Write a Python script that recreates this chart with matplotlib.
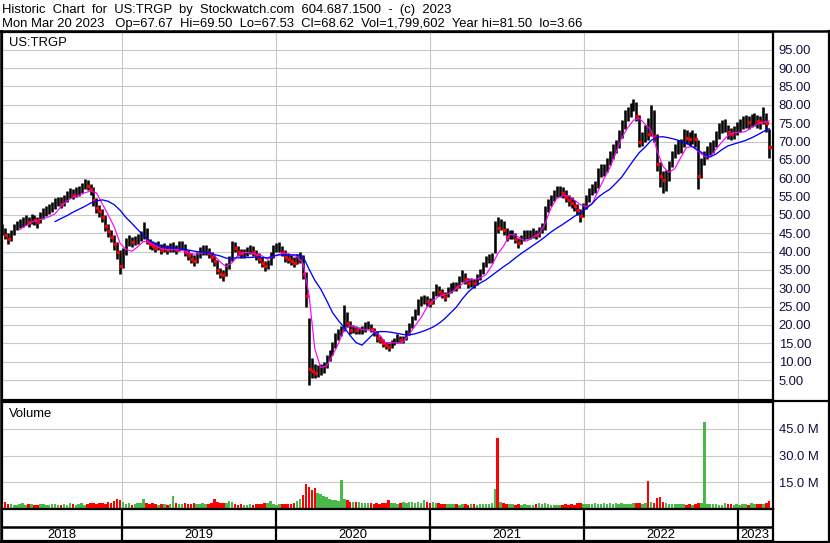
import matplotlib
matplotlib.use("Agg")
import matplotlib.pyplot as plt
import matplotlib.lines as mlines
import pandas as pd
import numpy as np

plt.rcParams['font.family'] = ['Liberation Sans', 'DejaVu Sans']

# ---------------- data (weekly) ----------------
week_start = "2018-03-23"
n_weeks = 261

close = [46.0, 44.5, 43.5, 45.0, 46.5, 47.0, 47.5, 48.0, 48.5, 48.0,
         49.0, 48.5, 48.0, 49.5, 50.5, 51.0, 51.5, 52.0, 53.0, 53.5,
         53.0, 54.0, 55.0, 56.0, 55.5, 56.0, 56.5, 57.5, 58.5, 58.0,
         57.0, 54.0, 52.0, 51.0, 49.5, 47.0, 45.5, 44.0, 42.0, 40.0,
         36.0, 39.5, 42.5, 43.0, 42.5, 43.0, 43.5, 44.0, 46.0, 43.0,
         42.0, 41.5, 41.0, 41.5, 40.5, 41.0, 40.5, 41.0, 41.0, 40.5,
         41.5, 41.5, 40.0, 39.0, 38.0, 37.5, 38.5, 40.0, 40.5, 40.5,
         39.5, 38.5, 37.5, 35.0, 34.0, 33.5, 35.5, 37.5, 41.5, 41.0,
         40.0, 39.5, 39.5, 40.0, 40.5, 40.0, 39.0, 38.0, 37.0, 36.0,
         36.5, 38.5, 40.5, 41.0, 41.0, 40.0, 38.5, 38.0, 37.5, 37.0,
         38.0, 38.5, 34.0, 28.0, 8.0, 7.5, 7.0, 7.0, 8.0, 8.5,
         10.5, 12.0, 14.0, 16.5, 17.5, 18.5, 23.5, 20.5, 18.5, 19.0,
         18.5, 18.5, 18.5, 19.5, 20.0, 19.0, 18.0, 16.5, 16.0, 15.0,
         14.5, 14.0, 15.0, 15.5, 16.5, 16.0, 16.0, 17.5, 19.5, 21.5,
         23.0, 26.0, 26.5, 27.0, 26.5, 26.0, 28.0, 30.0, 29.0, 28.5,
         27.7, 29.0, 30.4, 30.5, 30.4, 32.0, 34.0, 32.5, 31.4, 31.5,
         31.4, 32.5, 34.0, 36.0, 37.7, 38.0, 38.2, 47.5, 46.5, 47.8,
         46.0, 44.0, 44.5, 44.7, 43.5, 42.3, 43.5, 44.5, 44.5, 44.6,
         45.0, 44.6, 45.5, 46.4, 51.4, 53.0, 54.2, 55.5, 56.5, 56.5,
         56.0, 55.0, 54.0, 53.3, 52.5, 51.4, 49.6, 52.0, 54.0, 56.0,
         57.0, 57.8, 61.5, 62.0, 62.4, 64.0, 66.0, 67.5, 68.8, 71.5,
         74.0, 77.0, 77.5, 79.0, 80.5, 77.0, 70.0, 70.5, 73.0, 72.0,
         78.0, 71.5, 64.0, 60.6, 59.5, 59.7, 63.3, 66.0, 67.8, 68.5,
         68.8, 71.5, 71.0, 70.6, 71.0, 70.6, 60.6, 64.0, 66.0, 67.0,
         68.0, 68.8, 71.0, 73.4, 74.0, 74.3, 72.5, 72.0, 72.5, 73.5,
         74.3, 75.2, 75.5, 75.2, 75.8, 76.0, 75.5, 75.2, 77.5, 75.0,
         68.6]

low = [44.5, 43.5, 42.0, 43.0, 44.5, 45.8, 46.3, 46.8, 47.2, 46.8,
       47.5, 47.3, 46.5, 47.8, 49.0, 49.8, 50.3, 50.8, 51.5, 52.3,
       51.8, 52.5, 53.5, 54.5, 54.3, 54.8, 55.2, 56.0, 57.0, 56.8,
       55.5, 52.5, 50.5, 49.5, 48.0, 45.5, 44.0, 42.5, 40.5, 38.0,
       34.0, 35.5, 39.0, 41.5, 41.3, 41.8, 42.2, 42.8, 43.5, 42.0,
       40.8, 40.3, 39.8, 40.3, 39.3, 39.8, 39.3, 39.8, 39.8, 39.3,
       40.2, 40.3, 38.8, 37.8, 36.8, 36.2, 37.0, 38.3, 39.2, 39.2,
       38.3, 37.3, 36.0, 33.8, 32.8, 32.0, 33.3, 35.3, 37.5, 39.8,
       38.8, 38.3, 38.3, 38.8, 39.3, 38.8, 37.8, 36.8, 35.8, 34.8,
       35.3, 36.3, 38.3, 39.8, 39.8, 38.8, 37.3, 36.8, 36.3, 35.8,
       36.5, 37.0, 32.5, 25.0, 3.66, 5.5, 5.5, 5.8, 6.5, 7.0,
       8.3, 10.3, 11.8, 13.8, 16.0, 17.0, 18.3, 19.5, 17.5, 17.8,
       17.5, 17.5, 17.5, 18.2, 18.8, 18.0, 17.0, 15.5, 15.0, 14.0,
       13.5, 13.0, 13.8, 14.5, 15.2, 15.0, 15.0, 15.8, 17.3, 19.3,
       21.3, 22.8, 25.3, 25.8, 25.3, 24.8, 25.8, 27.8, 27.8, 27.3,
       26.5, 27.5, 28.8, 29.3, 29.2, 30.2, 31.8, 31.3, 30.2, 30.3,
       30.2, 31.0, 32.3, 33.8, 35.8, 36.8, 37.0, 39.5, 45.0, 45.8,
       44.5, 42.8, 43.3, 43.5, 42.3, 41.0, 42.0, 43.0, 43.3, 43.3,
       43.8, 43.3, 44.0, 45.0, 46.0, 50.8, 52.5, 53.8, 54.8, 55.0,
       54.5, 53.5, 52.5, 51.8, 51.0, 50.0, 48.0, 49.3, 51.5, 53.5,
       55.3, 56.0, 57.3, 60.3, 60.5, 61.8, 63.5, 65.3, 66.8, 68.3,
       71.0, 73.5, 75.5, 76.8, 78.3, 75.5, 68.5, 68.8, 70.0, 70.5,
       71.5, 70.0, 62.0, 57.5, 56.0, 56.5, 59.3, 63.0, 65.5, 66.5,
       66.8, 68.5, 69.3, 68.8, 69.3, 68.5, 57.0, 60.0, 63.5, 65.3,
       66.3, 67.0, 68.5, 70.8, 72.3, 72.5, 70.8, 70.3, 70.8, 71.8,
       72.5, 73.5, 73.8, 73.5, 74.0, 74.3, 73.8, 73.5, 74.8, 72.5,
       65.5]

high = [47.5, 46.5, 45.0, 46.0, 47.5, 48.3, 48.8, 49.3, 50.0, 49.5,
        50.3, 50.0, 49.3, 50.8, 51.8, 52.5, 53.0, 53.5, 54.5, 55.0,
        54.8, 55.5, 56.5, 57.3, 57.0, 57.5, 58.0, 58.8, 59.8, 59.5,
        58.5, 57.5, 54.5, 52.8, 51.5, 50.0, 47.5, 46.0, 44.5, 42.5,
        40.5, 41.0, 43.8, 44.5, 44.0, 44.3, 44.8, 45.5, 48.0, 46.5,
        43.5, 43.0, 42.5, 42.8, 42.0, 42.3, 41.8, 42.3, 42.5, 41.8,
        42.8, 42.8, 42.0, 40.5, 39.5, 39.0, 39.8, 41.3, 41.8, 41.8,
        41.0, 40.0, 39.0, 37.8, 35.5, 35.0, 36.8, 38.8, 43.0, 42.5,
        41.5, 40.8, 40.8, 41.3, 41.8, 41.5, 40.5, 39.5, 38.5, 37.5,
        37.8, 39.8, 41.8, 42.3, 42.5, 41.5, 40.3, 39.5, 39.0, 38.5,
        39.3, 39.8, 39.0, 34.5, 22.0, 11.0, 9.5, 9.0, 9.5, 10.0,
        11.8, 13.3, 15.3, 17.8, 18.8, 19.8, 25.5, 23.5, 21.0, 20.0,
        19.8, 19.5, 19.8, 20.8, 21.0, 20.3, 19.3, 18.3, 17.0, 16.3,
        15.5, 15.0, 15.8, 16.5, 17.5, 17.0, 17.0, 18.5, 20.5, 22.5,
        24.3, 27.0, 27.8, 28.3, 27.8, 27.3, 29.3, 31.3, 30.5, 29.8,
        29.0, 30.3, 31.5, 31.8, 31.6, 33.3, 35.0, 34.3, 32.8, 32.8,
        32.6, 33.8, 35.3, 37.3, 38.8, 39.3, 39.5, 48.3, 49.5, 48.8,
        48.3, 46.3, 45.8, 46.0, 45.0, 43.8, 44.5, 45.8, 45.8, 45.8,
        46.3, 46.0, 46.8, 47.8, 52.5, 54.3, 55.5, 56.8, 57.8, 58.0,
        57.5, 56.8, 55.5, 54.8, 54.0, 53.0, 51.5, 53.3, 55.3, 57.3,
        58.5, 59.3, 62.8, 63.8, 64.0, 65.5, 67.5, 69.3, 70.5, 73.0,
        75.8, 78.5, 79.3, 80.5, 81.5, 80.8, 77.3, 72.5, 74.5, 76.5,
        80.0, 78.5, 72.0, 64.5, 62.0, 62.3, 64.8, 67.5, 69.3, 70.3,
        70.8, 73.3, 73.0, 72.5, 73.0, 72.3, 70.5, 65.5, 67.5, 68.8,
        69.8, 70.5, 72.8, 75.0, 75.8, 76.0, 74.5, 73.8, 74.3, 75.3,
        76.0, 77.0, 77.3, 77.0, 77.5, 77.8, 77.3, 77.0, 79.5, 77.8,
        73.5]

# volume in millions of shares (weekly)
volume = [2.8, 4.0, 2.6, 2.9, 2.5, 2.3, 2.7, 3.1, 2.4, 2.6,
          2.9, 2.3, 2.5, 3.0, 2.7, 2.4, 2.3, 2.8, 2.6, 2.3,
          2.5, 2.9, 2.4, 3.5, 2.7, 2.3, 2.6, 3.1, 2.5, 2.8,
          3.2, 3.5, 2.9, 3.1, 3.3, 2.8, 3.8, 3.3, 4.5, 5.8,
          4.8, 3.8, 2.9, 3.1, 2.5, 2.8, 3.3, 3.6, 5.8, 3.5,
          2.8, 3.1, 2.6, 2.4, 2.9, 2.7, 2.5, 3.0, 7.5, 3.3,
          2.9, 2.7, 3.2, 2.6, 2.8, 3.1, 2.9, 2.7, 3.3, 3.0,
          2.8, 3.6, 5.5, 3.8, 3.3, 3.5, 3.1, 4.3, 3.9, 2.8,
          2.5, 2.7, 2.3, 2.4, 2.6, 2.5, 2.8, 2.9, 2.7, 3.2,
          3.5, 4.5, 2.9, 2.5, 2.7, 2.6, 2.8, 2.9, 2.7, 3.1,
          4.5, 5.5, 8.0, 14.0, 12.5, 10.5, 12.0, 9.0, 8.5, 7.5,
          7.0, 5.5, 5.0, 4.8, 4.5, 16.5, 5.5, 5.0, 4.2, 4.0,
          3.8, 4.0, 3.5, 3.4, 3.2, 3.5, 3.0, 3.2, 2.9, 3.1,
          3.4, 5.0, 3.5, 3.2, 3.0, 3.3, 4.2, 3.2, 3.7, 3.7,
          3.6, 3.8, 3.4, 5.0, 3.7, 3.2, 4.0, 3.5, 3.2, 3.0,
          2.8, 3.0, 2.7, 2.9, 2.6, 2.5, 2.8, 2.7, 2.4, 2.6,
          2.7, 2.5, 2.8, 2.6, 2.9, 2.7, 3.2, 11.0, 40.0, 3.8,
          3.2, 2.8, 2.7, 2.6, 2.5, 2.7, 2.4, 2.6, 2.3, 2.5,
          2.4, 2.7, 3.4, 2.8, 3.2, 2.6, 2.4, 2.5, 2.3, 2.2,
          2.4, 2.6, 2.5, 2.7, 2.3, 3.6, 3.2, 2.7, 2.8, 2.6,
          3.0, 3.2, 2.9, 2.7, 3.4, 2.8, 3.2, 3.0, 3.6, 2.9,
          3.2, 2.7, 2.8, 3.0, 3.5, 3.2, 3.4, 3.0, 3.2, 15.7,
          3.7, 3.2, 6.0, 7.0, 4.0, 3.4, 2.8, 2.7, 3.0, 2.6,
          2.8, 2.7, 2.5, 2.6, 2.4, 2.8, 3.2, 3.4, 49.0, 3.0,
          2.8, 2.6, 2.7, 2.4, 2.5, 3.5, 2.6, 2.8, 2.5, 2.7,
          2.4, 2.6, 2.7, 2.5, 3.2, 2.8, 2.6, 2.7, 3.0, 3.2,
          4.5]

# moving averages, sampled every second week
ma_short = [np.nan, np.nan, np.nan, 46.0, 47.0, 48.0, 48.5, 49.0, 49.5, 50.3,
            52.3, 53.8, 54.8, 55.3, 56.0, 56.5, 56.0, 53.0, 50.0, 46.8,
            42.3, 40.6, 40.1, 41.3, 42.8, 42.5, 41.6, 40.8, 40.5, 40.5,
            40.5, 40.1, 39.4, 39.3, 39.7, 39.8, 38.9, 37.1, 35.9, 37.0,
            39.0, 39.8, 39.7, 39.2, 38.9, 37.9, 38.7, 39.3, 39.5, 39.0,
            38.7, 36.8, 28.5, 13.5, 8.4, 8.8, 11.7, 14.9, 18.8, 19.8,
            19.3, 18.8, 18.6, 18.5, 17.2, 15.2, 15.2, 15.1, 15.4, 17.5,
            19.8, 22.0, 24.8, 26.6, 27.8, 28.2, 28.8, 30.0, 31.2, 32.2,
            32.4, 32.8, 33.7, 36.2, 39.4, 41.5, 44.6, 44.5, 43.4, 42.9,
            44.0, 44.8, 47.5, 51.8, 54.5, 55.2, 55.2, 54.0, 52.8, 52.3,
            53.0, 56.5, 59.8, 62.8, 66.8, 71.0, 73.7, 75.8, 76.3, 74.7,
            73.0, 67.5, 63.2, 61.6, 62.6, 65.6, 68.4, 68.6, 67.3, 66.0,
            65.8, 67.9, 69.9, 71.6, 72.4, 72.5, 72.7, 73.9, 74.8, 75.2,
            75.6]

ma_long = [np.nan, np.nan, np.nan, np.nan, np.nan, np.nan, np.nan, np.nan, np.nan, 48.2,
           49.0, 49.8, 50.7, 51.5, 52.3, 53.2, 53.8, 54.1, 53.7, 52.8,
           51.3, 49.3, 47.7, 46.0, 44.3, 43.0, 42.1, 41.5, 41.2, 41.0,
           40.8, 40.6, 40.3, 40.0, 39.9, 39.7, 39.2, 38.8, 38.2, 38.2,
           38.3, 38.4, 38.4, 38.5, 38.4, 38.3, 38.8, 39.1, 39.1, 39.1,
           39.1, 38.7, 35.3, 32.2, 29.8, 26.7, 23.4, 21.2, 19.3, 17.1,
           15.2, 14.5, 16.1, 17.7, 18.2, 18.2, 18.0, 17.7, 17.4, 17.3,
           17.6, 18.1, 18.7, 19.4, 20.4, 21.7, 23.3, 24.9, 27.1, 29.0,
           30.4, 31.4, 32.3, 33.5, 34.7, 35.9, 37.0, 38.3, 39.5, 40.6,
           41.7, 42.8, 44.0, 45.3, 46.4, 47.4, 48.5, 49.6, 50.6, 51.7,
           53.1, 54.8, 56.0, 57.0, 58.6, 60.3, 62.6, 64.9, 67.0, 68.5,
           70.3, 71.2, 71.3, 71.0, 70.6, 70.1, 69.5, 68.6, 67.6, 66.5,
           65.8, 66.6, 67.8, 68.8, 69.3, 69.8, 70.3, 71.0, 71.8, 72.7,
           73.5]

price_ticks = list(range(5, 100, 5))
vol_ticks = [15, 30, 45]
years = [2018, 2019, 2020, 2021, 2022, 2023]
x_start, x_end = "2018-03-23", "2023-03-26"

header1 = "Historic  Chart  for  US:TRGP  by  Stockwatch.com  604.687.1500  -  (c)  2023"
header2 = ("Mon Mar 20 2023   Op=67.67  Hi=69.50  Lo=67.53  Cl=68.62  "
           "Vol=1,799,602  Year hi=81.50  lo=3.66")

# ---------------- figure ----------------
W, H = 830, 543
fig = plt.figure(figsize=(W / 100, H / 100), dpi=100)
fig.patch.set_facecolor("white")


def rect(x0, y0, x1, y1):
    return [x0 / W, 1 - y1 / H, (x1 - x0) / W, (y1 - y0) / H]


dates = pd.date_range(week_start, periods=n_weeks, freq="7D")
ma_dates = dates[::2]
xlo, xhi = pd.Timestamp(x_start), pd.Timestamp(x_end)
year_bounds = [pd.Timestamp(f"{y}-01-01") for y in years[1:]]

close_a = np.array(close)
down = np.r_[False, close_a[1:] < close_a[:-1]]

GRID = "#c8c8c8"
LBL = "#101040"
FS = 9.4

# price panel
axp = fig.add_axes(rect(2, 32, 773, 400))
axp.set_xlim(xlo, xhi)
axp.set_ylim(-0.44, 99.84)
axp.vlines(dates, low, high, color="black", lw=1.85, zorder=3)
axp.plot(dates[down] + pd.Timedelta(days=2), close_a[down], ls="none",
         marker="s", ms=1.6, mfc="red", mec="red", zorder=4)
axp.plot(ma_dates, ma_short, color="#ff00ff", lw=0.85, zorder=5)
axp.plot(ma_dates, ma_long, color="#0000ff", lw=0.95, zorder=5)
axp.set_yticks(price_ticks)
axp.set_yticklabels([f"{v:.2f}" for v in price_ticks])
axp.set_xticks(year_bounds)
axp.set_xticklabels([])
axp.yaxis.tick_right()
axp.tick_params(axis="y", length=0, pad=4, labelsize=FS, labelcolor=LBL)
axp.tick_params(axis="x", length=0)
axp.grid(True, color=GRID, lw=0.8)
axp.set_axisbelow(True)
for s in axp.spines.values():
    s.set_linewidth(1.6)
    s.set_color("black")
axp.text(7 / 771, 1 - 13.5 / 368, "US:TRGP", transform=axp.transAxes,
         fontsize=FS, va="baseline", ha="left")

# volume panel
axv = fig.add_axes(rect(2, 402, 773, 509))
axv.set_xlim(xlo, xhi)
axv.set_ylim(0, 60)
vcol = np.where(down, "#ff0000", "#4cb84c")
axv.bar(dates, volume, width=6.0, color=vcol, align="center", zorder=3)
axv.set_yticks(vol_ticks)
axv.set_yticklabels([f"{v:.1f} M" for v in vol_ticks])
axv.set_xticks(year_bounds)
axv.set_xticklabels([])
axv.yaxis.tick_right()
axv.tick_params(axis="y", length=0, pad=4, labelsize=FS, labelcolor=LBL)
axv.tick_params(axis="x", length=0)
axv.grid(True, color=GRID, lw=0.8)
axv.set_axisbelow(True)
for s in axv.spines.values():
    s.set_linewidth(1.6)
    s.set_color("black")
axv.text(7 / 771, 1 - 15 / 107, "Volume", transform=axv.transAxes,
         fontsize=FS, va="baseline", ha="left")

# date strip
axs = fig.add_axes(rect(2, 509, 773, 541))
axs.set_xlim(xlo, xhi)
axs.set_ylim(32, 0)
axs.set_xticks([])
axs.set_yticks([])
axs.axhline(17.5, color="black", lw=1.8)
axs.vlines(year_bounds, 0, 32, color="black", lw=1.6)
edges = [xlo] + year_bounds + [xhi]
for y, a, b in zip(years, edges[:-1], edges[1:]):
    axs.text(a + (b - a) / 2, 26, str(y), ha="center", va="center",
             fontsize=FS, color="black")
for s in axs.spines.values():
    s.set_linewidth(1.6)
    s.set_color("black")

# header text and outer frame
fig.text(2 / W, 1 - 13 / H, header1, fontsize=FS, va="baseline", ha="left")
fig.text(2 / W, 1 - 27 / H, header2, fontsize=FS, va="baseline", ha="left")
fig.add_artist(mlines.Line2D([0, 1], [1 - 31 / H, 1 - 31 / H], color="black",
                             lw=1.8, transform=fig.transFigure))
fig.add_artist(mlines.Line2D([773 / W, 1], [1 - 401 / H, 1 - 401 / H],
                             color="black", lw=1.6, transform=fig.transFigure))
fig.add_artist(mlines.Line2D([1 / W, 1 / W], [1 - 31 / H, 1 - 542 / H],
                             color="black", lw=1.8, transform=fig.transFigure))
fig.add_artist(mlines.Line2D([829 / W, 829 / W], [1 - 31 / H, 1 - 542 / H],
                             color="black", lw=1.6, transform=fig.transFigure))
fig.add_artist(mlines.Line2D([0, 1], [1 - 541.5 / H, 1 - 541.5 / H],
                             color="black", lw=1.6, transform=fig.transFigure))

fig.savefig("out.png", dpi=100, facecolor="white")
